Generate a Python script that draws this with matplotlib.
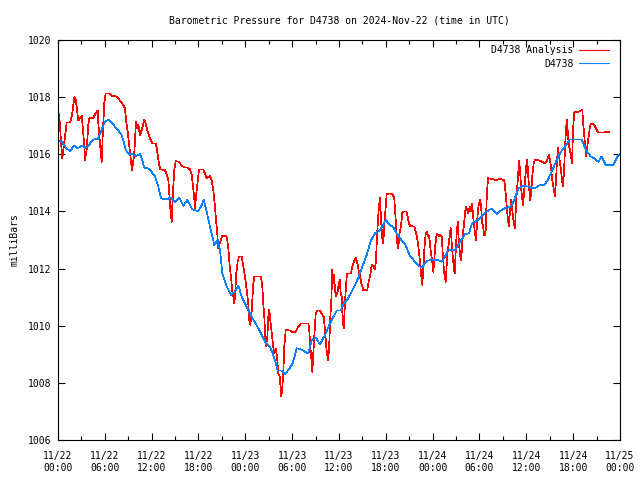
import datetime as dt
import matplotlib
matplotlib.use("Agg")
import matplotlib.pyplot as plt
import matplotlib.dates as mdates

# hours since 2024-11-22 00:00 UTC, pressure in mb
analysis_hours = [
    0.13, 0.26, 0.47, 0.55, 0.9, 1.11, 1.54, 1.67, 1.83, 1.96, 2.09, 2.27, 2.40, 2.52, 2.60,
    2.82, 3.04, 3.24, 3.37, 3.46, 3.68, 3.80, 3.88, 4.01, 4.52, 4.74, 4.96, 5.09, 5.16, 5.29,
    5.47, 5.60, 5.73, 5.93, 6.11, 6.53, 6.96, 7.52, 7.94, 8.37, 8.58, 8.71, 8.93, 9.10, 9.22,
    9.35, 9.48, 9.61, 9.77, 9.86, 9.99, 10.12, 10.29, 10.51, 10.72, 10.93, 11.06, 11.24, 11.49,
    11.79, 12.08, 12.55, 12.77, 12.94, 13.11, 13.71, 13.93, 14.13, 14.26, 14.44, 14.57, 14.64,
    14.77, 14.90, 15.08, 15.50, 15.85, 16.27, 16.62, 16.91, 17.13, 17.29, 17.46, 17.55, 17.68,
    17.85, 17.97, 18.06, 18.61, 18.83, 19.05, 19.26, 19.47, 19.69, 19.90, 20.11, 20.24, 20.37,
    20.54, 20.66, 20.88, 21.05, 21.48, 21.65, 21.82, 22.00, 22.16, 22.33, 22.46, 22.59, 22.71,
    22.84, 23.02, 23.19, 23.53, 23.74, 23.96, 24.17, 24.38, 24.51, 24.64, 24.81, 25.02, 25.15,
    26.01, 26.17, 26.30, 26.43, 26.56, 26.65, 26.82, 26.95, 27.07, 27.25, 27.38, 27.58, 27.71,
    27.89, 28.06, 28.22, 28.40, 28.53, 28.61, 28.73, 28.86, 28.99, 29.17, 29.72, 29.94, 30.45,
    30.79, 31.13, 32.07, 32.19, 32.32, 32.50, 32.58, 32.71, 32.83, 33.01, 33.18, 33.57, 33.78,
    34.04, 34.21, 34.33, 34.46, 34.63, 34.76, 34.89, 35.01, 35.14, 35.23, 35.36, 35.49, 35.61,
    35.78, 35.96, 36.09, 36.22, 36.34, 36.47, 36.60, 36.73, 36.86, 37.02, 37.54, 37.70, 37.92,
    38.14, 38.31, 38.47, 38.69, 38.91, 39.11, 39.63, 39.75, 39.97, 40.19, 40.39, 40.61, 40.74,
    40.87, 40.99, 41.12, 41.25, 41.38, 41.51, 41.64, 41.76, 41.89, 42.02, 42.11, 42.53, 42.83,
    43.08, 43.21, 43.34, 43.47, 43.60, 43.72, 43.85, 43.98, 44.11, 44.24, 44.62, 44.80, 44.97,
    45.13, 45.65, 45.82, 45.99, 46.16, 46.38, 46.50, 46.59, 46.67, 46.80, 46.93, 47.11, 47.27,
    47.40, 47.53, 47.66, 47.78, 47.95, 48.08, 48.21, 48.34, 48.52, 48.64, 48.81, 48.98, 49.16,
    49.29, 49.41, 49.54, 49.67, 49.80, 49.93, 50.05, 50.18, 50.31, 50.44, 50.57, 50.70, 50.82,
    50.95, 51.08, 51.21, 51.34, 51.47, 51.59, 51.72, 51.85, 51.98, 52.11, 52.24, 52.40, 52.57,
    52.75, 52.91, 53.04, 53.17, 53.30, 53.42, 53.55, 53.68, 53.81, 53.94, 54.06, 54.19, 54.36,
    54.45, 54.58, 54.77, 54.94, 55.10, 55.74, 56.05, 56.62, 57.17, 57.26, 57.39, 57.52, 57.65,
    57.78, 57.91, 58.03, 58.16, 58.29, 58.42, 58.55, 58.68, 58.81, 58.93, 59.06, 59.19, 59.32,
    59.44, 59.57, 59.70, 59.83, 59.99, 60.12, 60.25, 60.38, 60.51, 60.64, 60.76, 60.94, 61.11,
    61.66, 61.97, 62.39, 62.61, 62.74, 62.91, 63.03, 63.16, 63.29, 63.42, 63.54, 63.67, 63.80,
    63.93, 64.06, 64.19, 64.31, 64.44, 64.57, 64.70, 64.83, 64.95, 65.08, 65.21, 65.34, 65.47,
    65.60, 65.72, 65.85, 65.98, 66.11, 66.24, 66.66, 67.01, 67.17, 67.30, 67.43, 67.56, 67.68,
    67.86, 67.99, 68.12, 68.25, 68.59, 68.80, 69.02, 69.23, 69.66, 70.08, 70.63,
]
analysis_mb = [
    1017.43, 1016.97, 1016.09, 1015.86, 1016.62, 1017.11, 1017.11, 1017.22, 1017.43, 1017.72,
    1018.0, 1017.9, 1017.67, 1017.34, 1017.18, 1017.26, 1017.34, 1016.73, 1016.27, 1015.8,
    1016.2, 1016.73, 1017.03, 1017.26, 1017.26, 1017.4, 1017.49, 1017.53, 1017.1, 1016.67,
    1016.09, 1015.74, 1016.67, 1017.78, 1018.13, 1018.13, 1018.04, 1018.02, 1017.88, 1017.72,
    1017.61, 1017.22, 1016.79, 1016.38, 1016.09, 1015.8, 1015.45, 1015.69, 1016.03, 1016.5,
    1017.14, 1016.91, 1017.03, 1016.67, 1016.85, 1017.08, 1017.2, 1017.08, 1016.79, 1016.56,
    1016.38, 1016.38, 1015.98, 1015.68, 1015.47, 1015.45, 1015.28, 1015.1, 1014.63, 1013.94,
    1013.64, 1014.17, 1014.87, 1015.45, 1015.76, 1015.74, 1015.59, 1015.54, 1015.54, 1015.47,
    1015.28, 1014.87, 1014.46, 1014.11, 1014.52, 1014.93, 1015.22, 1015.47, 1015.47, 1015.33,
    1015.16, 1015.2, 1015.24, 1015.08, 1014.75, 1014.17, 1013.7, 1013.35, 1012.71, 1012.83,
    1013.0, 1013.14, 1013.16, 1013.06, 1012.71, 1012.07, 1011.72, 1011.19, 1011.02, 1010.78,
    1011.19, 1011.83, 1012.24, 1012.42, 1012.42, 1012.07, 1011.72, 1011.25, 1010.78, 1010.2,
    1010.03, 1010.49, 1011.48, 1011.72, 1011.72, 1011.37, 1010.78, 1010.32, 1009.5, 1009.27,
    1009.62, 1010.32, 1010.55, 1010.08, 1009.73, 1009.27, 1009.03, 1009.2, 1008.92, 1008.33,
    1008.22, 1007.81, 1007.52, 1007.81, 1008.33, 1009.27, 1009.85, 1009.83, 1009.79, 1009.79,
    1009.97, 1010.08, 1010.08, 1009.85, 1009.27, 1008.74, 1008.39, 1009.03, 1009.62, 1010.38,
    1010.53, 1010.53, 1010.41, 1010.32, 1009.85, 1009.39, 1009.03, 1008.8, 1009.44, 1010.32,
    1010.84, 1011.95, 1011.48, 1011.78, 1011.25, 1011.02, 1011.13, 1011.43, 1011.6, 1011.13,
    1011.02, 1010.2, 1009.91, 1010.55, 1011.25, 1011.83, 1011.83, 1012.07, 1012.24, 1012.39,
    1012.24, 1012.01, 1011.72, 1011.43, 1011.25, 1011.25, 1011.48, 1011.72, 1012.13, 1012.07,
    1011.98, 1012.3, 1013.12, 1013.7, 1014.17, 1014.46, 1013.82, 1013.12, 1012.88, 1013.23,
    1013.82, 1014.28, 1014.61, 1014.63, 1014.6, 1014.46, 1013.94, 1013.35, 1012.88, 1012.71,
    1013.18, 1013.35, 1013.58, 1013.94, 1014.0, 1014.0, 1013.82, 1013.58, 1013.49, 1013.47,
    1013.29, 1013.12, 1012.77, 1012.24, 1011.72, 1011.95, 1011.43, 1012.01, 1012.65, 1013.23,
    1013.29, 1013.12, 1013.16, 1012.88, 1012.53, 1012.24, 1011.89, 1012.3, 1012.83, 1013.23,
    1013.18, 1013.12, 1013.18, 1013.12, 1012.53, 1012.07, 1011.72, 1011.54, 1012.13, 1012.65,
    1012.83, 1013.18, 1013.41, 1012.88, 1012.42, 1012.07, 1011.83, 1012.59, 1013.23, 1013.64,
    1013.0, 1012.59, 1012.3, 1012.59, 1013.18, 1013.47, 1013.82, 1014.17, 1014.05, 1013.94,
    1014.17, 1014.0, 1014.28, 1013.87, 1013.53, 1013.23, 1013.0, 1013.58, 1014.05, 1014.28,
    1014.4, 1014.22, 1013.58, 1013.53, 1013.18, 1013.18, 1014.63, 1015.16, 1015.13, 1015.1,
    1015.13, 1015.1, 1014.87, 1014.52, 1014.05, 1013.7, 1013.49, 1014.05, 1014.4, 1014.17,
    1013.82, 1013.58, 1013.41, 1014.28, 1014.75, 1015.22, 1015.76, 1015.45, 1014.87, 1014.52,
    1014.22, 1014.63, 1015.1, 1015.57, 1015.8, 1015.22, 1014.75, 1014.4, 1014.75, 1015.22,
    1015.68, 1015.82, 1015.78, 1015.74, 1015.68, 1015.74, 1015.86, 1015.98, 1015.78, 1015.57,
    1015.16, 1014.93, 1014.75, 1014.52, 1015.1, 1015.8, 1016.21, 1015.98, 1015.68, 1015.45,
    1015.1, 1014.87, 1015.45, 1016.15, 1016.91, 1017.2, 1016.62, 1016.27, 1016.15, 1015.92,
    1015.68, 1016.79, 1017.43, 1017.47, 1017.49, 1017.53, 1017.55, 1017.03, 1016.62, 1016.21,
    1015.92, 1016.38, 1016.62, 1016.91, 1017.06, 1017.06, 1016.97, 1016.85, 1016.76, 1016.76,
    1016.77, 1016.77,
]

station_hours = [
    0.0, 0.47, 1.11, 1.54, 2.09, 2.52, 3.04, 3.46, 3.88, 4.52, 5.09, 5.6, 6.02, 6.53, 7.3,
    8.07, 8.37, 8.67, 9.1, 9.65, 9.99, 10.5, 10.8, 11.06, 11.66, 12.43, 12.85, 13.2, 13.93,
    14.48, 14.99, 15.54, 16.05, 16.56, 17.21, 17.97, 18.41, 18.67, 19.05, 19.47, 20.02, 20.46,
    20.75, 21.05, 21.61, 22.16, 22.68, 23.1, 23.53, 24.17, 24.81, 25.66, 26.52, 27.16, 27.8,
    28.14, 28.66, 29.08, 29.5, 30.07, 30.58, 31.13, 31.64, 32.07, 32.5, 33.01, 33.57, 34.21,
    34.85, 35.71, 36.26, 36.68, 36.99, 37.63, 38.27, 38.91, 39.55, 40.1, 40.61, 41.25, 41.67,
    41.98, 42.32, 42.96, 43.39, 43.81, 44.45, 45.1, 45.74, 46.38, 46.67, 47.23, 47.87, 48.64,
    49.16, 49.58, 50.0, 50.44, 50.86, 51.28, 51.8, 52.14, 52.65, 53.0, 53.42, 54.06, 54.61,
    54.92, 55.56, 56.2, 56.84, 57.48, 58.03, 58.46, 58.97, 59.61, 60.25, 60.76, 61.2, 61.75,
    62.3, 62.74, 63.33, 63.89, 64.44, 64.95, 65.59, 67.09, 67.73, 68.28, 68.79, 69.22, 69.65,
    70.16, 71.14, 71.7, 72.0,
]
station_mb = [
    1016.5, 1016.44, 1016.2, 1016.12, 1016.3, 1016.2, 1016.31, 1016.23, 1016.3, 1016.52,
    1016.53, 1016.87, 1017.14, 1017.22, 1016.97, 1016.71, 1016.5, 1016.15, 1016.0, 1016.0,
    1015.94, 1016.0, 1015.8, 1015.53, 1015.5, 1015.22, 1014.87, 1014.46, 1014.42, 1014.49,
    1014.31, 1014.49, 1014.2, 1014.4, 1014.07, 1014.01, 1014.22, 1014.42, 1013.99, 1013.47,
    1012.83, 1013.0, 1012.65, 1011.83, 1011.37, 1011.08, 1011.19, 1011.41, 1011.02, 1010.67,
    1010.32, 1009.91, 1009.44, 1009.27, 1008.8, 1008.43, 1008.43, 1008.3, 1008.45, 1008.68,
    1009.21, 1009.17, 1009.09, 1009.03, 1009.5, 1009.59, 1009.35, 1009.68, 1010.08, 1010.53,
    1010.53, 1010.84, 1010.88, 1011.19, 1011.54, 1012.01, 1012.48, 1013.0, 1013.23, 1013.35,
    1013.53, 1013.72, 1013.58, 1013.44, 1013.23, 1013.06, 1012.86, 1012.44, 1012.24, 1012.07,
    1012.05, 1012.27, 1012.3, 1012.3, 1012.24, 1012.42, 1012.67, 1012.63, 1012.65, 1012.83,
    1013.06, 1013.2, 1013.23, 1013.55, 1013.64, 1013.76, 1013.93, 1013.99, 1014.11, 1013.91,
    1014.05, 1014.14, 1014.17, 1014.4, 1014.81, 1014.9, 1014.87, 1014.81, 1014.83, 1014.93,
    1014.93, 1015.1, 1015.45, 1015.8, 1016.09, 1016.27, 1016.52, 1016.52, 1016.09, 1015.92,
    1015.84, 1015.74, 1015.92, 1015.63, 1015.63, 1015.94, 1016.0,
]

start = dt.datetime(2024, 11, 22, 0, 0)


def to_times(hours):
    return [start + dt.timedelta(hours=h) for h in hours]


plt.rcParams["font.family"] = ["DejaVu Sans Mono"]
plt.rcParams["font.size"] = 7

fig = plt.figure(figsize=(6.4, 4.8), dpi=100)
ax = fig.add_axes([58 / 640, 40 / 480, 562 / 640, 400 / 480])

ax.plot(to_times(analysis_hours), analysis_mb, color="#ff0000", lw=0.5,
        antialiased=False, label="D4738 Analysis")
ax.plot(to_times(station_hours), station_mb, color="#0a80ff", lw=0.5,
        antialiased=False, label="D4738")

ax.set_xlim(start, start + dt.timedelta(hours=72))
ax.set_ylim(1006, 1020)
ax.set_yticks(range(1006, 1021, 2))
ax.xaxis.set_major_locator(mdates.HourLocator(byhour=[0, 6, 12, 18]))
ax.xaxis.set_minor_locator(mdates.HourLocator(byhour=[3, 9, 15, 21]))
ax.xaxis.set_major_formatter(mdates.DateFormatter("%m/%d\n%H:%M"))

ax.tick_params(which="both", direction="in", top=True, right=True, width=0.8,
               labelsize=7, colors="black")
ax.tick_params(which="major", length=5)
ax.tick_params(which="minor", length=3)
ax.tick_params(axis="x", which="major", pad=8)
ax.tick_params(axis="y", pad=5)
for s in ax.spines.values():
    s.set_linewidth(0.8)

ax.set_title("Barometric Pressure for D4738 on 2024-Nov-22 (time in UTC)",
             fontsize=7, pad=12)
ax.set_ylabel("milliBars", fontsize=7, labelpad=6)

leg = ax.legend(loc="upper right", bbox_to_anchor=(1 - 6 / 562, 1), frameon=False,
                markerfirst=False, fontsize=7, handlelength=3.0, handletextpad=0.6,
                labelspacing=0.35, borderaxespad=0.15)
for line in leg.get_lines():
    line.set_linewidth(0.8)

fig.savefig("out.png", dpi=100)
